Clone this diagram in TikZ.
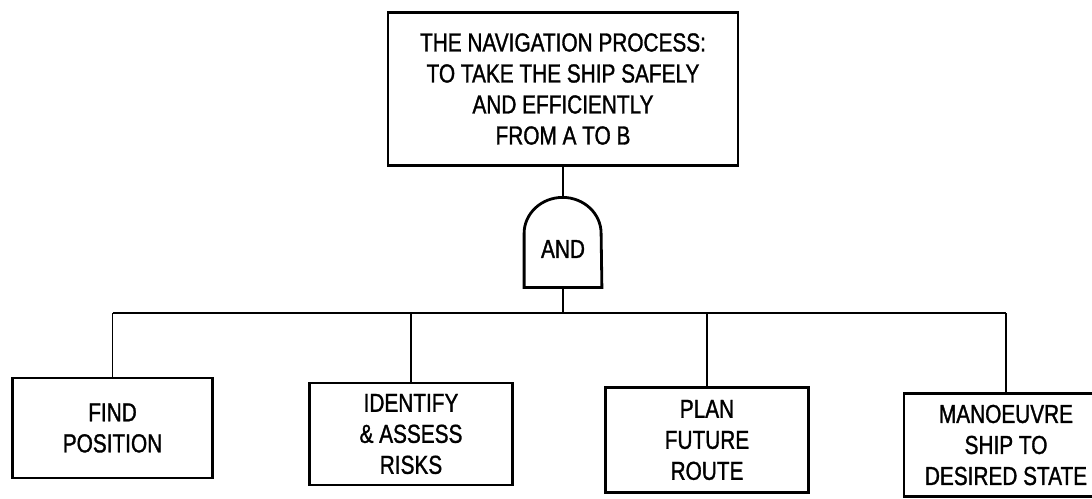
\documentclass[tikz,border=0pt]{standalone}
\usepackage{fontspec}
\setmainfont{Liberation Sans}[FakeStretch=0.8, FakeBold=1.2]
\usepackage{tikz}
\usetikzlibrary{calc}

\begin{document}
\begin{tikzpicture}[x=0.5pt, y=-0.5pt,
    box/.style={draw, line width=1.4pt, align=center, inner sep=0pt,
      font=\fontsize{13}{15.5}\selectfont},
    link/.style={line width=0.8pt}]
    \useasboundingbox (0,0) rectangle (1092,498);
    \clip (0,0) rectangle (1092,498);
    % top event
    \node[box, minimum width=175pt, minimum height=76.5pt] (top) at (563, 89)
      {THE NAVIGATION PROCESS:\\TO TAKE THE SHIP SAFELY\\AND EFFICIENTLY\\FROM A TO B};
    % and gate
    \node[minimum width=38.5pt, minimum height=45pt, inner sep=0pt] (gate) at (563, 242) {};
    \draw[line width=1.4pt] (gate.south west) -- ++(0,-54)
      arc[start angle=180, end angle=0, x radius=19.25pt, y radius=18pt]
      -- (gate.south east) -- cycle;
    \node[font=\fontsize{13}{15.5}\selectfont] (andtxt) at (563, 249) {AND};
    \coordinate (bar) at (563, 313);
    % sub tasks
    \node[box, minimum width=100pt, minimum height=50pt] (b1) at (112.5, 428) {FIND\\POSITION};
    \node[box, minimum width=101.5pt, minimum height=51pt] (b2) at (411, 434) {IDENTIFY\\\& ASSESS\\RISKS};
    \node[box, minimum width=101.5pt, minimum height=52.5pt] (b3) at (707, 440) {PLAN\\FUTURE\\ROUTE};
    \node[box, minimum width=102pt, minimum height=51.5pt] (b4) at (1006, 445) {MANOEUVRE\\SHIP TO\\DESIRED STATE};
    \draw[link] (top) -- (gate);
    \draw[link] (gate.south) -- (gate.south |- bar);
    \draw[link] (b1.north |- bar) -- (b4.north |- bar);
    \foreach \i in {1,...,4}
      \draw[link] (b\i.north) -- (b\i.north |- bar);
  \end{tikzpicture}
\end{document}
